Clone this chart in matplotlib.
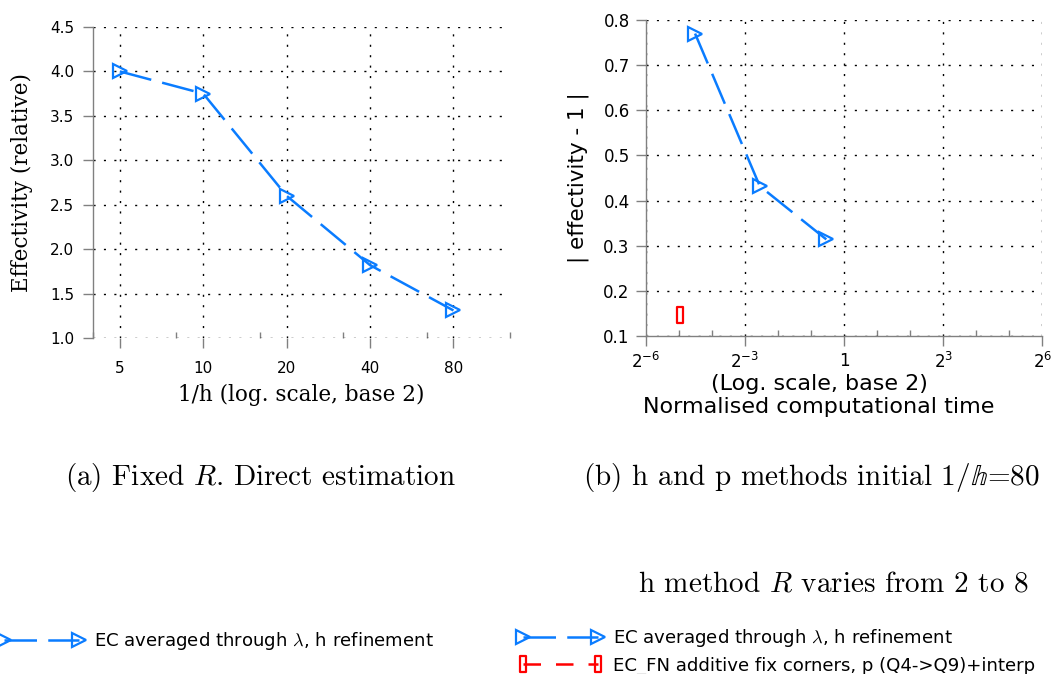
import numpy as np
import matplotlib
matplotlib.use("Agg")
import matplotlib.pyplot as plt
from matplotlib.path import Path
from matplotlib.ticker import FixedLocator, FixedFormatter, NullFormatter
from matplotlib.legend_handler import HandlerLine2D

# ---- data -------------------------------------------------------------
# (a) fixed R, direct estimation
inv_h = [5, 10, 20, 40, 80]
effectivity = [4.0, 3.75, 2.6, 1.82, 1.31]

# (b) h and p methods, initial 1/h = 80
h_time = [0.044, 0.171, 0.69]
h_err = [0.77, 0.432, 0.314]
p_time = [0.032]
p_err = [0.146]

label_h = r"EC averaged through $\lambda$, h refinement"
label_p = "EC_FN additive fix corners, p (Q4->Q9)+interp"

a_xticks = [5, 10, 20, 40, 80]
a_xminor = [4, 8, 16, 32, 64, 128]
a_yticks = [1.0, 1.5, 2.0, 2.5, 3.0, 3.5, 4.0, 4.5]

b_xticks = [2.0 ** -6, 2.0 ** -3, 1.0, 2.0 ** 3, 2.0 ** 6]
b_xlabels = [r"$2^{-6}$", r"$2^{-3}$", "1", r"$2^{3}$", r"$2^{6}$"]
b_xminor = [2.0 ** k for k in range(-6, 7)]
b_yticks = [0.1, 0.2, 0.3, 0.4, 0.5, 0.6, 0.7, 0.8]

# ---- style ------------------------------------------------------------
BLUE = "#0a7cff"
RED = "#ff0000"
GREY = "#808080"
DASH = (0, (13, 4.5))
DOT = (0, (1.5, 6))

plt.rcParams["font.family"] = ["DejaVu Sans"]

fig = plt.figure(figsize=(10.53, 6.74), dpi=100)

ax1 = fig.add_axes([93 / 1053, 1 - 338 / 674, 417 / 1053, 311 / 674])
ax2 = fig.add_axes([645.7 / 1053, 1 - 336 / 674, 396.6 / 1053, 316 / 674])

rect = Path([(-0.32, -1), (0.32, -1), (0.32, 1), (-0.32, 1), (-0.32, -1)],
            [Path.MOVETO, Path.LINETO, Path.LINETO, Path.LINETO, Path.CLOSEPOLY])


def style_axes(ax):
    for side in ("top", "right"):
        ax.spines[side].set_visible(False)
    for side in ("left", "bottom"):
        ax.spines[side].set_color(GREY)
        ax.spines[side].set_linewidth(1.0)
    ax.grid(True, which="major", color="black", linestyle=DOT, linewidth=1.0)
    ax.tick_params(which="major", direction="out", length=7.5, width=1.0,
                   color=GREY, labelsize=11, pad=6)
    ax.tick_params(which="minor", direction="in", length=4, width=1.0,
                   color=GREY)
    ax.set_axisbelow(True)


# ---- (a) ---------------------------------------------------------------
line_a, = ax1.plot(inv_h, effectivity, color=BLUE, linestyle=DASH, linewidth=1.8,
                   marker=">", markersize=10, markerfacecolor="none",
                   markeredgecolor=BLUE, markeredgewidth=1.6, label=label_h,
                   clip_on=False)
ax1.set_xscale("log", base=2)
ax1.set_xlim(4, 128)
ax1.set_ylim(1.0, 4.5)
ax1.xaxis.set_major_locator(FixedLocator(a_xticks))
ax1.xaxis.set_major_formatter(FixedFormatter([str(v) for v in a_xticks]))
ax1.xaxis.set_minor_locator(FixedLocator(a_xminor))
ax1.xaxis.set_minor_formatter(NullFormatter())
ax1.yaxis.set_major_locator(FixedLocator(a_yticks))
ax1.yaxis.set_major_formatter(FixedFormatter([f"{v:.1f}" for v in a_yticks]))
style_axes(ax1)
ax1.spines["bottom"].set_visible(False)
ax1.tick_params(axis="x", which="major", pad=9)
ax1.set_xlabel("1/h (log. scale, base 2)", family="DejaVu Serif", fontsize=15.5,
               labelpad=6)
ax1.set_ylabel("Effectivity (relative)", family="DejaVu Serif", fontsize=15.5,
               labelpad=12)

# ---- (b) ---------------------------------------------------------------
line_b, = ax2.plot(h_time, h_err, color=BLUE, linestyle=DASH, linewidth=1.8,
                   marker=">", markersize=10, markerfacecolor="none",
                   markeredgecolor=BLUE, markeredgewidth=1.6, label=label_h)
line_p, = ax2.plot(p_time, p_err, color=RED, linestyle=(0, (7, 6)), linewidth=1.8,
                   marker=rect, markersize=12, markerfacecolor="none",
                   markeredgecolor=RED, markeredgewidth=1.6, label=label_p)
ax2.set_xscale("log", base=2)
ax2.set_xlim(2.0 ** -6, 2.0 ** 6)
ax2.set_ylim(0.1, 0.8)
ax2.xaxis.set_major_locator(FixedLocator(b_xticks))
ax2.xaxis.set_major_formatter(FixedFormatter(b_xlabels))
ax2.xaxis.set_minor_locator(FixedLocator(b_xminor))
ax2.xaxis.set_minor_formatter(NullFormatter())
ax2.yaxis.set_major_locator(FixedLocator(b_yticks))
ax2.yaxis.set_major_formatter(FixedFormatter([f"{v:.1f}" for v in b_yticks]))
style_axes(ax2)
ax2.tick_params(labelsize=12, pad=4)
ax2.set_xlabel("(Log. scale, base 2)\nNormalised computational time",
               fontsize=16, linespacing=1.2, va="top")
ax2.xaxis.set_label_coords(0.437, -0.12)
ax2.set_ylabel("| effectivity - 1 |", fontsize=15.5, labelpad=10)

# ---- captions ------------------------------------------------------------
cap = dict(family=["cmr10", "DejaVu Serif"], math_fontfamily="cm", fontsize=21,
           va="center", ha="left")
fig.text(65 / 1053, 1 - 478 / 674, r"(a) Fixed $R$. Direct estimation", **cap)
fig.text(583 / 1053, 1 - 477 / 674,
         r"(b) h and p methods initial 1/$\mathbb{h}$=80", **cap)
fig.text(638 / 1053, 1 - 584 / 674, r"h method $R$ varies from 2 to 8", **cap)

# ---- legends -------------------------------------------------------------
hmap = {line_a: HandlerLine2D(marker_pad=0, numpoints=2),
        line_b: HandlerLine2D(marker_pad=0, numpoints=2),
        line_p: HandlerLine2D(marker_pad=0, numpoints=2)}
leg_kw = dict(frameon=False, fontsize=13.1, borderpad=0, borderaxespad=0,
              handlelength=4.12, handletextpad=0.8, handler_map=hmap)
leg1 = fig.legend(handles=[line_a], loc="center left",
                  bbox_to_anchor=(4 / 1053, 1 - 641 / 674), **leg_kw)
leg2 = fig.legend(handles=[line_b, line_p], loc="center left",
                  bbox_to_anchor=(523 / 1053, 1 - 651 / 674), labelspacing=0.4,
                  **leg_kw)
for leg in (leg1, leg2):
    for t in leg.get_texts():
        t.set_math_fontfamily("cm")

fig.savefig("out.png", dpi=100)
